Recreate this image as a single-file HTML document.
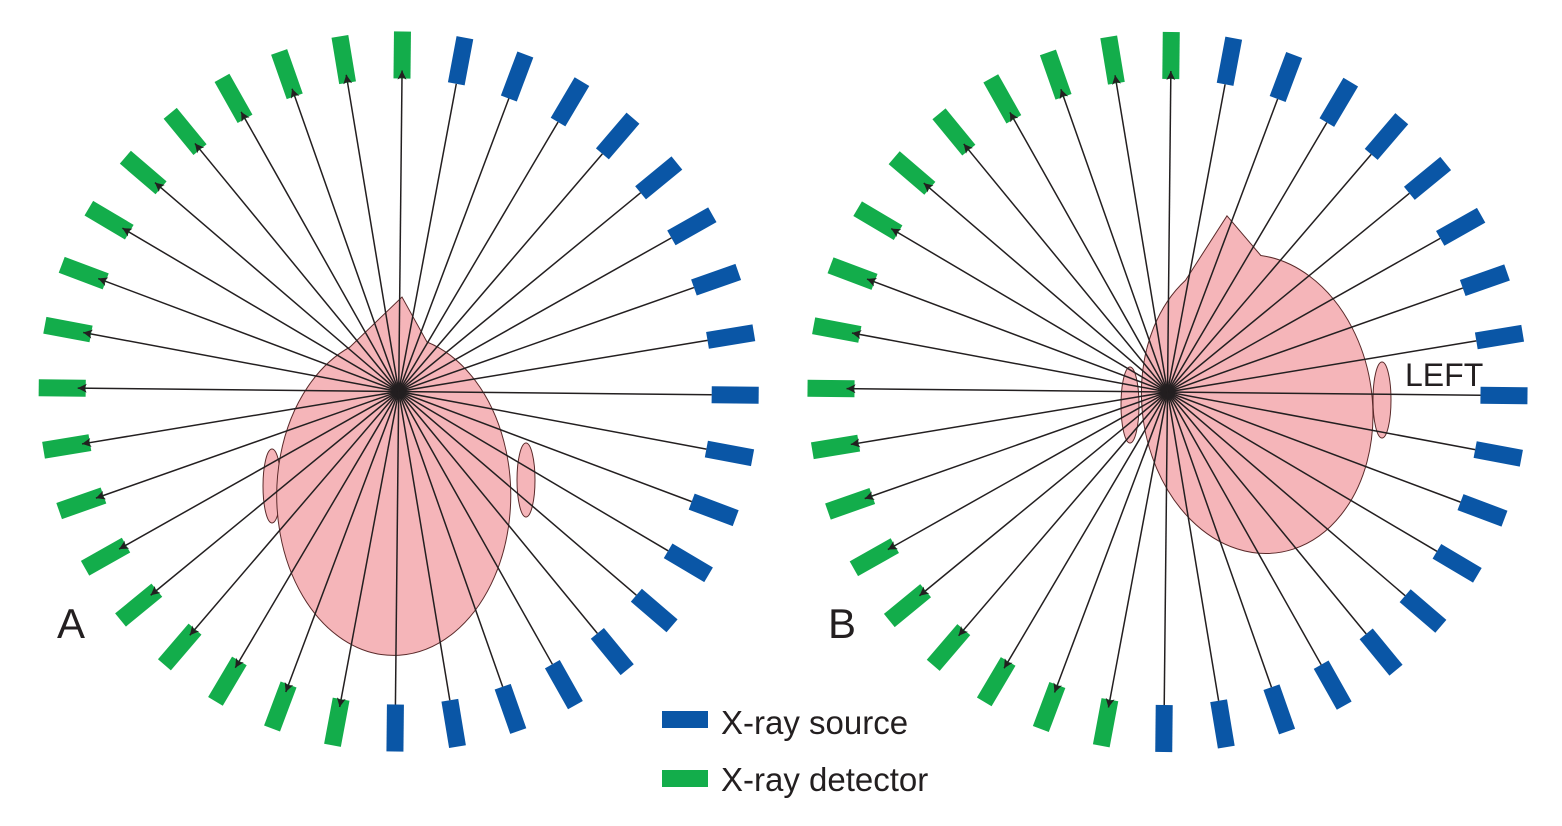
<!DOCTYPE html>
<html><head><meta charset="utf-8"><style>
html,body{margin:0;padding:0;background:#fff;}
svg{display:block;}
text{font-family:"Liberation Sans",Arial,sans-serif;fill:#231f20;}
</style></head><body>
<svg id="s" width="1562" height="826" viewBox="0 0 1562 826" xmlns="http://www.w3.org/2000/svg">
<defs>
<marker id="ar" viewBox="0 0 10 10" refX="10" refY="5" markerWidth="11" markerHeight="9" markerUnits="userSpaceOnUse" orient="auto">
<path d="M0,0 L10,5 L0,10 L2.5,5 z" fill="#231f20"/>
</marker>
</defs>
<g fill="#f5b5b9" stroke="#5a2a2a" stroke-width="1">
<ellipse cx="272" cy="486" rx="9" ry="37"/>
<ellipse cx="526" cy="480" rx="9" ry="37"/>
<path d="M350,347 L402,297 L427,342 A117,160 0 1 1 350,347 Z" />
</g>
<g fill="#f5b5b9" stroke="#5a2a2a" stroke-width="1">
<ellipse cx="1130" cy="405" rx="9" ry="38"/>
<ellipse cx="1382" cy="400" rx="9" ry="38"/>
<g transform="translate(-2,-4) rotate(-8 1255 405)">
<path d="M1205,276 L1255,218 L1283,262 A115,150 0 1 1 1205,276 Z"/>
</g>
</g>
<g id="ringA"></g>
<g id="ringB"></g>
<text x="57" y="638" font-size="42">A</text>
<text x="828" y="638" font-size="42">B</text>
<text x="1405" y="386" font-size="32">LEFT</text>
<rect x="662" y="711" width="46" height="17" fill="#0a56a6"/>
<text x="721" y="734" font-size="33">X-ray source</text>
<rect x="662" y="770" width="46" height="17" fill="#13ad4b"/>
<text x="721" y="791" font-size="33">X-ray detector</text>
</svg>
<script>
(function(){
var NS="http://www.w3.org/2000/svg";
function ring(id,cx,cy){
  var g=document.getElementById(id);
  var R=336.5, rot=0.6;
  var lines=document.createElementNS(NS,"g");
  var rects=document.createElementNS(NS,"g");
  g.appendChild(rects);g.appendChild(lines);
  for(var i=0;i<36;i++){
    var a=(i*10+rot)*Math.PI/180;
    var x=cx+R*Math.sin(a), y=cy-R*Math.cos(a);
    var blue=(i>=1&&i<=18);
    var r=document.createElementNS(NS,"rect");
    r.setAttribute("x",x-8.5);r.setAttribute("y",y-23.5);
    r.setAttribute("width",17);r.setAttribute("height",47);
    r.setAttribute("fill",blue?"#0a56a6":"#13ad4b");
    r.setAttribute("transform","rotate("+(i*10+rot)+" "+x+" "+y+")");
    rects.appendChild(r);
    if(blue){
      var b=a+Math.PI;
      var l=document.createElementNS(NS,"line");
      l.setAttribute("x1",cx+313*Math.sin(a));l.setAttribute("y1",cy-313*Math.cos(a));
      l.setAttribute("x2",cx+321*Math.sin(b));l.setAttribute("y2",cy-321*Math.cos(b));
      l.setAttribute("stroke","#231f20");l.setAttribute("stroke-width","1.5");
      l.setAttribute("marker-end","url(#ar)");
      lines.appendChild(l);
    }
  }
}
ring("ringA",398.7,391.5);
ring("ringB",1167.5,392);
})();
</script>
</body></html>
